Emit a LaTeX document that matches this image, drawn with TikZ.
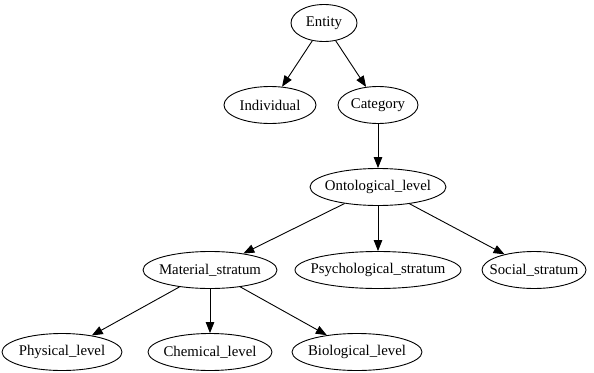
\documentclass[tikz,border=0pt]{standalone}
\usepackage{fontspec}
\setmainfont{Liberation Serif}
\usetikzlibrary{shapes.geometric, arrows.meta}

\begin{document}
\begin{tikzpicture}[
  x=1pt, y=-1pt,
  line width=0.9pt,
  every node/.style = {font=\fontsize{14.8}{17}\selectfont},
  concept/.style = {draw, ellipse, inner xsep=-14pt, inner ysep=0pt, minimum height=37pt},
  arrow/.style = {-{Triangle[length=11pt,width=8.5pt]}}
]
\useasboundingbox (0,0) rectangle (594,372);

% --- top
\node[concept, minimum width=66pt] (entity) at (324,23) {Entity};
\node[concept, minimum width=92pt] (individual) at (270,105) {Individual};
\node[concept, minimum width=80pt] (category) at (378,105) {Category};
\draw[arrow] (entity) -- (individual);
\draw[arrow] (entity) -- (category);

% --- levels
\node[concept, minimum width=136pt] (ontological) at (378,187) {Ontological\_level};
\draw[arrow] (category) -- (ontological);

% --- strata
\node[concept, minimum width=134pt] (material) at (210,270) {Material\_stratum};
\node[concept, minimum width=166pt] (psychological) at (378,270) {Psychological\_stratum};
\node[concept, minimum width=104pt] (social) at (534,270) {Social\_stratum};
\draw[arrow] (ontological) -- (material);
\draw[arrow] (ontological) -- (psychological);
\draw[arrow] (ontological) -- (social);

% --- material levels
\node[concept, minimum width=120pt] (physical) at (62,352) {Physical\_level};
\node[concept, minimum width=124pt] (chemical) at (210,352) {Chemical\_level};
\node[concept, minimum width=130pt] (biological) at (357,352) {Biological\_level};
\draw[arrow] (material) -- (physical);
\draw[arrow] (material) -- (chemical);
\draw[arrow] (material) -- (biological);

\end{tikzpicture}
\end{document}
